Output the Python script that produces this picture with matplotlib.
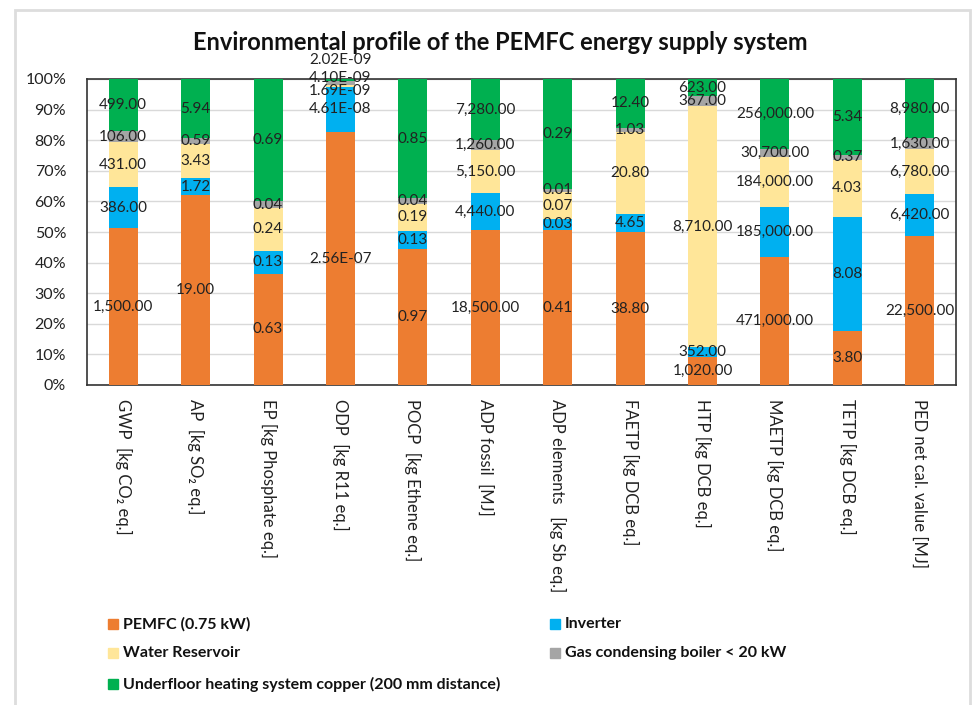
import matplotlib
matplotlib.use("Agg")
import matplotlib.pyplot as plt
from matplotlib.patches import Rectangle
import numpy as np

plt.rcParams['font.family'] = ['Lato', 'DejaVu Sans']

categories = ["GWP  [kg CO\u2082 eq.]", "AP  [kg SO\u2082 eq.]", "EP [kg Phosphate eq.]",
              "ODP  [kg R11 eq.]", "POCP  [kg Ethene eq.]", "ADP fossil  [MJ]",
              "ADP elements   [kg Sb eq.]", "FAETP [kg DCB eq.]", "HTP [kg DCB eq.]",
              "MAETP [kg DCB eq.]", "TETP [kg DCB eq.]", "PED net cal. value [MJ]"]

pemfc = [1500.00, 19.00, 0.63, 2.56e-07, 0.97, 18500.00, 0.41, 38.80, 1020.00, 471000.00, 3.80, 22500.00]
inverter = [386.00, 1.72, 0.13, 4.61e-08, 0.13, 4440.00, 0.03, 4.65, 352.00, 185000.00, 8.08, 6420.00]
water = [431.00, 3.43, 0.24, 1.69e-09, 0.19, 5150.00, 0.07, 20.80, 8710.00, 184000.00, 4.03, 6780.00]
gas = [106.00, 0.59, 0.04, 4.10e-09, 0.04, 1260.00, 0.01, 1.03, 367.00, 30700.00, 0.37, 1630.00]
floor = [499.00, 5.94, 0.69, 2.02e-09, 0.85, 7280.00, 0.29, 12.40, 623.00, 256000.00, 5.34, 8980.00]

series_names = ["PEMFC (0.75 kW)", "Inverter", "Water Reservoir",
                "Gas condensing boiler < 20 kW",
                "Underfloor heating system copper (200 mm distance)"]
series = [pemfc, inverter, water, gas, floor]
colors = ["#ED7D31", "#00B0F0", "#FFE699", "#A5A5A5", "#00B050"]

yticks = [0, 10, 20, 30, 40, 50, 60, 70, 80, 90, 100]
ytick_labels = ["0%", "10%", "20%", "30%", "40%", "50%", "60%", "70%", "80%", "90%", "100%"]

W, H = 975, 705
fig = plt.figure(figsize=(W / 100, H / 100), dpi=100)

# outer chart border
fig.patches.append(Rectangle((15 / W, -0.05), (970 - 15) / W, 1.05 - 10 / H,
                             transform=fig.transFigure, fill=False,
                             edgecolor="#DDDDDD", lw=2.0))

ax = fig.add_axes([87 / W, 1 - 385 / H, (956 - 87) / W, (385 - 79) / H])

data = np.array(series, dtype=float)
totals = data.sum(axis=0)
pct = data / totals * 100
x = np.arange(len(categories))
bottom = np.zeros(len(categories))

# manual label shifts (percentage points) for crowded ODP bar
shifts = {(3, 2): -1.7, (3, 3): 1.8, (3, 4): 6.4}

def fmt(v):
    if abs(v) < 1e-4:
        return f"{v:.2E}"
    return f"{v:,.2f}"

for si, (vals, col) in enumerate(zip(series, colors)):
    ax.bar(x, pct[si], bottom=bottom, width=0.4, color=col, zorder=3)
    for ci in range(len(categories)):
        yc = bottom[ci] + pct[si][ci] / 2 + shifts.get((ci, si), 0)
        ax.text(x[ci], yc, fmt(vals[ci]), ha="center", va="center",
                fontsize=11, color="#222222", zorder=5, clip_on=False)
    bottom += pct[si]

ax.set_xlim(-0.5, len(categories) - 0.5)
ax.set_ylim(0, 100)
ax.set_yticks(yticks)
ax.set_yticklabels(ytick_labels, fontsize=11.5, color="#222222")
ax.set_xticks(x)
ax.set_xticklabels(categories, rotation=270, fontsize=12, color="#222222",
                   va="top", ha="center")
ax.tick_params(axis="both", length=0)
ax.tick_params(axis="x", pad=10)
ax.tick_params(axis="y", pad=15)
ax.grid(axis="y", color="#D9D9D9", lw=1.0, zorder=0)
for s in ax.spines.values():
    s.set_color("#333333")
    s.set_linewidth(1.2)

fig.text(500 / W, 1 - 43 / H, "Environmental profile of the PEMFC energy supply system",
         ha="center", va="center", fontsize=17, fontweight="bold", color="#111111")

# legend
leg_pos = [(108, 624), (550, 624), (108, 653), (550, 653), (108, 684)]
for (lx, ly), name, col in zip(leg_pos, series_names, colors):
    fig.patches.append(Rectangle((lx / W, 1 - (ly + 5) / H), 10 / W, 10 / H,
                                 transform=fig.transFigure, color=col))
    fig.text((lx + 15) / W, 1 - ly / H, name, ha="left", va="center",
             fontsize=11.5, fontweight="bold", color="#111111")

fig.savefig("out.png", dpi=100)
